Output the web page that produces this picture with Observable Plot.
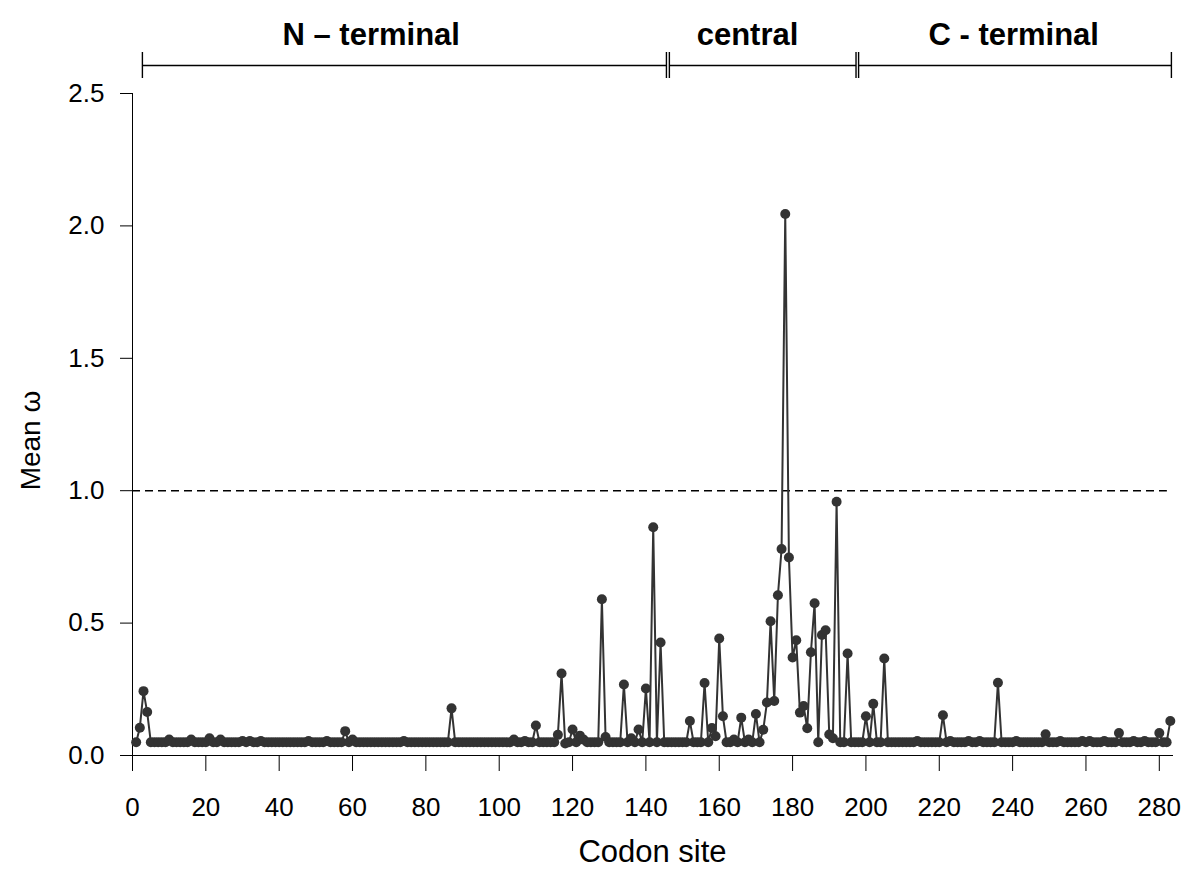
<!DOCTYPE html>
<html>
<head>
<meta charset="utf-8">
<script src="https://cdn.jsdelivr.net/npm/d3@7"></script>
<script src="https://cdn.jsdelivr.net/npm/@observablehq/plot@0.6"></script>
<style>
  html, body { margin: 0; padding: 0; background: #fff; }
  svg { display: block; }
</style>
</head>
<body>
<div id="chart"></div>
<script>
// Mean omega per codon site (sites 1..283)
const omega = [
  0.05,0.105,0.243,0.164,0.05,0.05,0.05,0.05,0.05,0.06,
  0.05,0.05,0.05,0.05,0.05,0.06,0.05,0.05,0.05,0.05,
  0.065,0.05,0.05,0.06,0.05,0.05,0.05,0.05,0.05,0.055,
  0.05,0.055,0.05,0.05,0.055,0.05,0.05,0.05,0.05,0.05,
  0.05,0.05,0.05,0.05,0.05,0.05,0.05,0.055,0.05,0.05,
  0.05,0.05,0.055,0.05,0.05,0.05,0.05,0.092,0.05,0.06,
  0.05,0.05,0.05,0.05,0.05,0.05,0.05,0.05,0.05,0.05,
  0.05,0.05,0.05,0.055,0.05,0.05,0.05,0.05,0.05,0.05,
  0.05,0.05,0.05,0.05,0.05,0.05,0.178,0.05,0.05,0.05,
  0.05,0.05,0.05,0.05,0.05,0.05,0.05,0.05,0.05,0.05,
  0.05,0.05,0.05,0.06,0.05,0.05,0.055,0.05,0.05,0.113,
  0.05,0.05,0.05,0.05,0.05,0.078,0.31,0.045,0.05,0.098,
  0.05,0.075,0.06,0.05,0.05,0.05,0.05,0.59,0.07,0.05,
  0.05,0.05,0.05,0.268,0.05,0.065,0.05,0.098,0.05,0.253,
  0.05,0.862,0.05,0.427,0.05,0.05,0.05,0.05,0.05,0.05,
  0.05,0.13,0.05,0.05,0.05,0.274,0.05,0.104,0.073,0.442,
  0.148,0.05,0.05,0.06,0.05,0.143,0.05,0.06,0.05,0.157,
  0.05,0.097,0.2,0.507,0.206,0.605,0.78,2.045,0.748,0.37,
  0.435,0.162,0.187,0.103,0.39,0.575,0.05,0.455,0.473,0.079,
  0.065,0.958,0.05,0.05,0.385,0.05,0.05,0.05,0.05,0.148,
  0.05,0.195,0.05,0.05,0.366,0.05,0.05,0.05,0.05,0.05,
  0.05,0.05,0.05,0.055,0.05,0.05,0.05,0.05,0.05,0.05,
  0.152,0.05,0.055,0.05,0.05,0.05,0.05,0.055,0.05,0.05,
  0.055,0.05,0.05,0.05,0.05,0.275,0.05,0.05,0.05,0.05,
  0.055,0.05,0.05,0.05,0.05,0.05,0.05,0.05,0.08,0.05,
  0.05,0.05,0.055,0.05,0.05,0.05,0.05,0.05,0.055,0.05,
  0.055,0.05,0.05,0.05,0.055,0.05,0.05,0.05,0.085,0.05,
  0.05,0.05,0.055,0.05,0.05,0.055,0.05,0.05,0.05,0.085,
  0.05,0.05,0.13
];
const firstSite = 1;

// Domain regions (codon site ranges) and their labels
const regionNames = ["N \u2013 terminal", "central", "C - terminal"];
const regionStart = [2.7, 146.4, 198.0];
const regionEnd = [145.6, 197.3, 283.3];
const regionLabelSite = [65.1, 167.7, 240.3];

const xTicks = [0, 20, 40, 60, 80, 100, 120, 140, 160, 180, 200, 220, 240, 260, 280];
const yTicks = [0, 0.5, 1.0, 1.5, 2.0, 2.5];
const threshold = 1.0;
const xDomain = [0, 283.6];
const yDomain = [0, 2.5];

const data = omega.map((v, i) => ({site: firstSite + i, omega: v}));
const regions = regionNames.map((name, i) => ({
  name, start: regionStart[i], end: regionEnd[i], labelAt: regionLabelSite[i]
}));
const regionEnds = regions.flatMap(r => [r.start, r.end]);

const FONT = "'Liberation Sans', Arial, Helvetica, sans-serif";
const INK = "#333333";

const chart = Plot.plot({
  width: 1200,
  height: 881,
  marginLeft: 132,
  marginRight: 28,
  marginTop: 93,
  marginBottom: 126,
  style: {fontFamily: FONT, fontSize: "26px", color: "#000", background: "#fff", overflow: "visible"},
  x: {
    domain: xDomain,
    ticks: xTicks,
    tickFormat: d3.format("d"),
    tickSize: 16,
    tickPadding: 26,
    line: true,
    label: null
  },
  y: {
    domain: yDomain,
    ticks: yTicks,
    tickFormat: d3.format(".1f"),
    tickSize: 12,
    tickPadding: 16,
    line: true,
    label: null
  },
  marks: [
    // threshold omega = 1
    Plot.ruleY([threshold], {x1: 0, x2: 282.2, stroke: "#000", strokeWidth: 1.5, strokeDasharray: "8,5"}),
    // series
    Plot.line(data, {x: "site", y: "omega", stroke: INK, strokeWidth: 2}),
    Plot.dot(data, {x: "site", y: "omega", r: 5, fill: INK, stroke: "none"}),
    // region brackets above the plot
    Plot.link(regions, {x1: "start", x2: "end", y1: () => yDomain[1], y2: () => yDomain[1], dy: -28, stroke: "#000", strokeWidth: 1.6}),
    Plot.ruleX(regionEnds, {y1: yDomain[1], y2: yDomain[1], dy: -28, insetTop: -13, insetBottom: -13, stroke: "#000", strokeWidth: 1.4}),
    Plot.text(regions, {x: "labelAt", y: () => yDomain[1], dy: -58, text: "name", fontSize: 31, fontWeight: "bold", fill: "#000"}),
    // axis titles
    Plot.text(["Codon site"], {frameAnchor: "bottom", lineAnchor: "middle", dy: 97, text: d => d, fontSize: 31, fill: "#000"}),
    Plot.text(["Mean \u03c9"], {frameAnchor: "left", textAnchor: "middle", dx: -101, dy: 16, rotate: -90, text: d => d, fontSize: 28, fill: "#000"})
  ]
});

document.getElementById("chart").appendChild(chart);
</script>
</body>
</html>
